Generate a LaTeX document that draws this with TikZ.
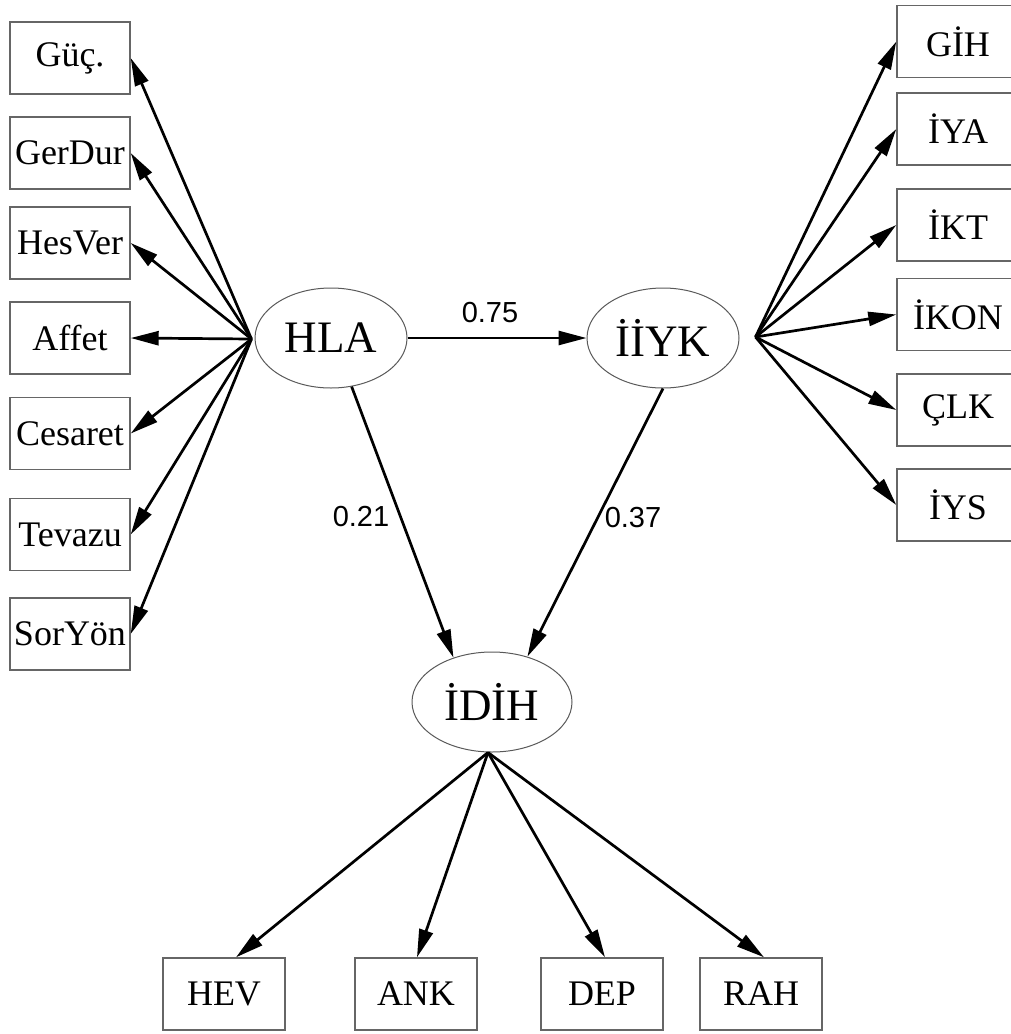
\documentclass[tikz,border=0pt]{standalone}
\usepackage{fontspec}
\setmainfont{Liberation Serif}
\newfontfamily\labelfont{Liberation Sans}
\usetikzlibrary{shapes.geometric,arrows.meta,calc}

\tikzset{
  obs/.style={draw=black!60, line width=1.4pt, rectangle, minimum width=120, minimum height=72,
              inner sep=0pt, font=\fontsize{36}{40}\selectfont},
  wideobs/.style={obs, minimum width=122},
  lat/.style={draw=black!65, line width=1pt, ellipse, minimum width=152, minimum height=100,
              inner sep=0pt, font=\fontsize{45}{48}\selectfont},
  path/.style={draw=black, line width=2.7pt, -{Triangle[length=28pt,width=14pt]}},
  coef/.style={font=\labelfont\fontsize{29}{32}\selectfont, inner sep=0pt}
}

\begin{document}
\begin{tikzpicture}[x=1pt, y=-1pt]
  \useasboundingbox (0,0) rectangle (1010,1034);

  % latent variables
  \node[lat] (HLA)  at (331,338) {HLA};
  \node[lat] (IIYK) at (663,338) {İİYK};
  \node[lat, minimum width=160] (IDIH) at (492,702) {İDİH};

  % indicators of HLA
  \node[obs] (guc)     at (70,58)    {Güç.};
  \node[obs] (gerdur)  at (70,153)   {GerDur};
  \node[obs] (hesver)  at (70,243)   {HesVer};
  \node[obs] (affet)   at (70,338)   {Affet};
  \node[obs] (cesaret) at (70,433.5) {Cesaret};
  \node[obs] (tevazu)  at (70,534.5) {Tevazu};
  \node[obs] (soryon)  at (70,634)   {SorYön};

  % indicators of İİYK
  \node[wideobs] (gih)  at (958,41.5) {GİH};
  \node[wideobs] (iya)  at (958,129)  {İYA};
  \node[wideobs] (ikt)  at (958,225)  {İKT};
  \node[wideobs] (ikon) at (958,314.5){İKON};
  \node[wideobs] (clk)  at (958,410)  {ÇLK};
  \node[wideobs] (iys)  at (958,505)  {İYS};

  % indicators of İDİH
  \node[wideobs] (hev) at (224,994) {HEV};
  \node[wideobs] (ank) at (416,994) {ANK};
  \node[wideobs] (dep) at (602,994) {DEP};
  \node[wideobs] (rah) at (761,994) {RAH};

  % fan-out points of the measurement paths
  \coordinate (hlaOut)  at ($(HLA.west)+(-3,1)$);
  \coordinate (iiykOut) at ($(IIYK.east)+(16,-1)$);
  \coordinate (idihOut) at ($(IDIH.south)+(-4,0)$);

  % HLA loadings
  \foreach \t in {guc,gerdur,hesver,affet,cesaret,tevazu,soryon}
    \draw[path] (hlaOut) -- (\t.east);

  % İİYK loadings
  \foreach \t in {gih,iya,ikt,ikon,clk,iys}
    \draw[path] (iiykOut) -- (\t.west);

  % İDİH loadings
  \draw[path] (idihOut) -- ($(hev.north)+(12,0)$);
  \draw[path] (idihOut) -- ($(ank.north)+(1,0)$);
  \draw[path] (idihOut) -- ($(dep.north)+(3,0)$);
  \draw[path] (idihOut) -- ($(rah.north)+(3,0)$);

  % structural paths
  \draw[path] (HLA.east) -- (IIYK.west);
  \draw[path] (HLA.-67) -- (IDIH.131);
  \draw[path] (IIYK.south) -- (IDIH.52);

  % path coefficients
  \node[coef] (c75) at (490,313) {0.75};
  \node[coef] (c21) at (361,517) {0.21};
  \node[coef] (c37) at (633,518) {0.37};
\end{tikzpicture}
\end{document}
